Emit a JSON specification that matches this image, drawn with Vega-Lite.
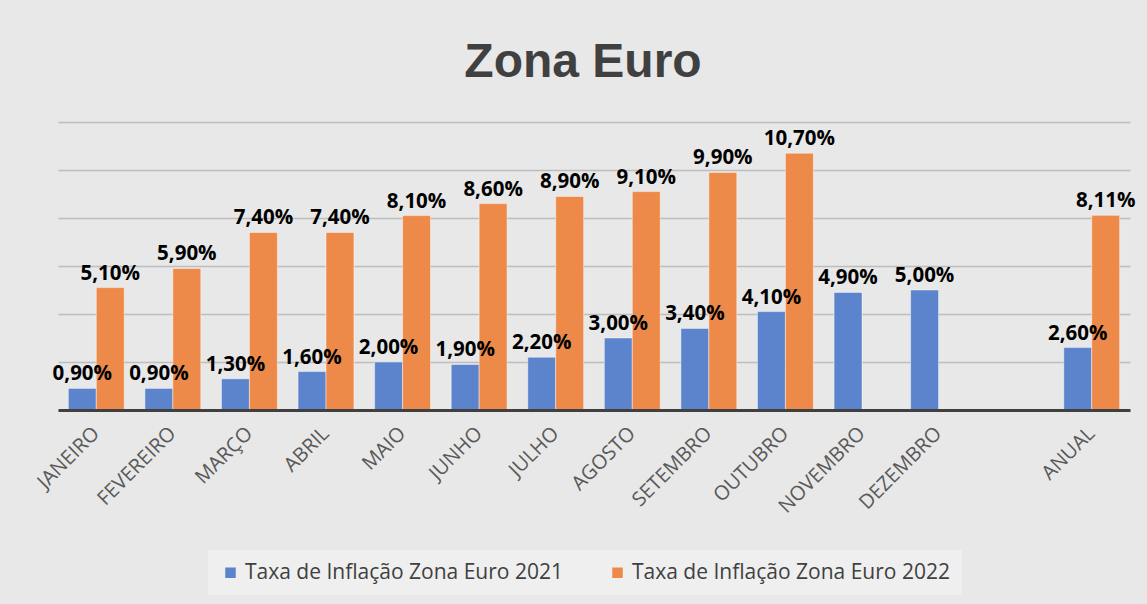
{
  "$schema": "https://vega.github.io/schema/vega-lite/v6.json",
  "autosize": {"type": "none"},
  "width": 1072,
  "height": 288,
  "padding": {"left": 58, "top": 122, "right": 17, "bottom": 194},
  "background": "#e8e8e8",
  "title": {
    "text": "Zona Euro",
    "font": "Liberation Sans",
    "fontSize": 48,
    "fontWeight": "bold",
    "color": "#404040",
    "anchor": "middle",
    "baseline": "alphabetic",
    "offset": -3,
    "dx": -11
  },
  "data": {
    "values": [
      {"mes": "JANEIRO", "serie": "Taxa de Inflação Zona Euro 2021", "taxa": 0.009},
      {"mes": "FEVEREIRO", "serie": "Taxa de Inflação Zona Euro 2021", "taxa": 0.009},
      {"mes": "MARÇO", "serie": "Taxa de Inflação Zona Euro 2021", "taxa": 0.013},
      {"mes": "ABRIL", "serie": "Taxa de Inflação Zona Euro 2021", "taxa": 0.016},
      {"mes": "MAIO", "serie": "Taxa de Inflação Zona Euro 2021", "taxa": 0.020},
      {"mes": "JUNHO", "serie": "Taxa de Inflação Zona Euro 2021", "taxa": 0.019},
      {"mes": "JULHO", "serie": "Taxa de Inflação Zona Euro 2021", "taxa": 0.022},
      {"mes": "AGOSTO", "serie": "Taxa de Inflação Zona Euro 2021", "taxa": 0.030},
      {"mes": "SETEMBRO", "serie": "Taxa de Inflação Zona Euro 2021", "taxa": 0.034},
      {"mes": "OUTUBRO", "serie": "Taxa de Inflação Zona Euro 2021", "taxa": 0.041},
      {"mes": "NOVEMBRO", "serie": "Taxa de Inflação Zona Euro 2021", "taxa": 0.049},
      {"mes": "DEZEMBRO", "serie": "Taxa de Inflação Zona Euro 2021", "taxa": 0.050},
      {"mes": "ANUAL", "serie": "Taxa de Inflação Zona Euro 2021", "taxa": 0.026},
      {"mes": "JANEIRO", "serie": "Taxa de Inflação Zona Euro 2022", "taxa": 0.051},
      {"mes": "FEVEREIRO", "serie": "Taxa de Inflação Zona Euro 2022", "taxa": 0.059},
      {"mes": "MARÇO", "serie": "Taxa de Inflação Zona Euro 2022", "taxa": 0.074},
      {"mes": "ABRIL", "serie": "Taxa de Inflação Zona Euro 2022", "taxa": 0.074},
      {"mes": "MAIO", "serie": "Taxa de Inflação Zona Euro 2022", "taxa": 0.081},
      {"mes": "JUNHO", "serie": "Taxa de Inflação Zona Euro 2022", "taxa": 0.086},
      {"mes": "JULHO", "serie": "Taxa de Inflação Zona Euro 2022", "taxa": 0.089},
      {"mes": "AGOSTO", "serie": "Taxa de Inflação Zona Euro 2022", "taxa": 0.091},
      {"mes": "SETEMBRO", "serie": "Taxa de Inflação Zona Euro 2022", "taxa": 0.099},
      {"mes": "OUTUBRO", "serie": "Taxa de Inflação Zona Euro 2022", "taxa": 0.107},
      {"mes": "ANUAL", "serie": "Taxa de Inflação Zona Euro 2022", "taxa": 0.0811}
    ]
  },
  "encoding": {
    "x": {
      "field": "mes",
      "type": "nominal",
      "title": null,
      "scale": {
        "domain": ["JANEIRO", "FEVEREIRO", "MARÇO", "ABRIL", "MAIO", "JUNHO", "JULHO", "AGOSTO", "SETEMBRO", "OUTUBRO", "NOVEMBRO", "DEZEMBRO", " ", "ANUAL"],
        "paddingInner": 0.27,
        "paddingOuter": 0.135
      },
      "axis": {
        "labelAngle": -45,
        "labelAlign": "right",
        "labelBaseline": "middle",
        "labelFont": "Open Sans",
        "labelFontSize": 20,
        "labelColor": "#595959",
        "labelPadding": 20,
        "ticks": false,
        "domainColor": "#404040",
        "domainWidth": 3,
        "labelOverlap": false,
        "zindex": 1
      }
    },
    "xOffset": {
      "field": "serie",
      "type": "nominal",
      "scale": {"paddingInner": 0, "paddingOuter": 0}
    },
    "y": {
      "field": "taxa",
      "type": "quantitative",
      "title": null,
      "scale": {"domain": [0, 0.12], "nice": false},
      "axis": {
        "values": [0, 0.02, 0.04, 0.06, 0.08, 0.1, 0.12],
        "labels": false,
        "ticks": false,
        "domain": false,
        "grid": true,
        "gridColor": "#bdbdbd",
        "gridWidth": 1.5
      }
    }
  },
  "layer": [
    {
      "mark": {"type": "bar", "stroke": "#ffffff", "strokeOpacity": 0.45, "strokeWidth": 1},
      "encoding": {
        "color": {
          "field": "serie",
          "type": "nominal",
          "scale": {"range": ["#5b84cc", "#ed8a4a"]},
          "legend": {
            "title": null,
            "orient": "none",
            "direction": "horizontal",
            "legendX": 150,
            "legendY": 428,
            "padding": 12,
            "fillColor": "#efefef",
            "symbolType": "square",
            "symbolSize": 110,
            "symbolStrokeWidth": 0,
            "labelFont": "Open Sans",
            "labelFontSize": 21,
            "labelColor": "#404040",
            "columnPadding": 44,
            "labelLimit": 400
          }
        }
      }
    },
    {
      "mark": {
        "type": "text",
        "baseline": "bottom",
        "dy": -4,
        "font": "Open Sans",
        "fontSize": 20.5,
        "fontWeight": "bold",
        "color": "#000000"
      },
      "encoding": {
        "text": {"field": "taxa", "type": "quantitative", "format": ".2%"}
      }
    }
  ],
  "config": {
    "locale": {
      "number": {"decimal": ",", "thousands": ".", "grouping": [3], "currency": ["€", ""]}
    },
    "view": {"stroke": null}
  }
}
